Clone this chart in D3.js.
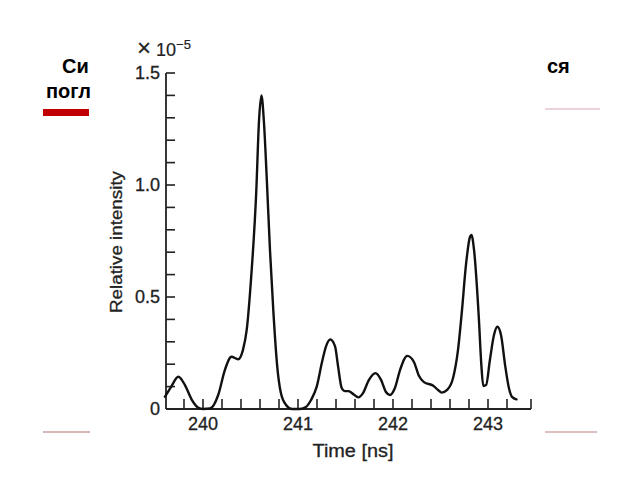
<!DOCTYPE html>
<html>
<head>
<meta charset="utf-8">
<script src="https://cdn.jsdelivr.net/npm/d3@7/dist/d3.min.js"></script>
<style>
  html, body { margin: 0; padding: 0; background: #fff; }
  svg { display: block; }
</style>
</head>
<body>
<svg id="chart" width="640" height="480"></svg>
<script>
// ---- data ----
const times = [239.60, 239.663, 239.74, 239.81, 239.884, 239.947, 240.0, 240.074, 240.16, 240.23,
  240.30, 240.37, 240.42, 240.46, 240.505, 240.56, 240.59, 240.615, 240.64, 240.67,
  240.705, 240.74, 240.78, 240.82, 240.874, 240.937, 241.02, 241.084, 241.137, 241.197,
  241.253, 241.295, 241.34, 241.39, 241.42, 241.46, 241.495, 241.53, 241.568, 241.635,
  241.684, 241.747, 241.816, 241.874, 241.926, 241.968, 242.02, 242.074, 242.15, 242.22,
  242.274, 242.326, 242.424, 242.474, 242.513, 242.57, 242.635, 242.684, 242.726, 242.768,
  242.81, 242.826, 242.853, 242.903, 242.93, 242.95, 242.98, 243.02, 243.063, 243.098,
  243.137, 243.18, 243.22, 243.253, 243.30];
const intensity = [0.055, 0.098, 0.144, 0.107, 0.04, 0.007, 0.0, 0.002, 0.0625, 0.174,
  0.233, 0.222, 0.263, 0.353, 0.576, 0.964, 1.29, 1.40, 1.29, 1.04,
  0.71, 0.44, 0.196, 0.071, 0.018, 0.0, 0.0, 0.009, 0.04, 0.10,
  0.21, 0.28, 0.31, 0.28, 0.196, 0.094, 0.08, 0.08, 0.071, 0.052,
  0.071, 0.13, 0.16, 0.13, 0.076, 0.0625, 0.094, 0.174, 0.237, 0.21,
  0.147, 0.12, 0.104, 0.085, 0.073, 0.085, 0.143, 0.263, 0.44, 0.643,
  0.768, 0.777, 0.71, 0.41, 0.196, 0.103, 0.107, 0.219, 0.33, 0.367,
  0.33, 0.196, 0.094, 0.054, 0.043];
const xTickLabels = [240, 241, 242, 243];
const yTickLabels = ["0", "0.5", "1.0", "1.5"];
const yTickValues = [0, 0.5, 1.0, 1.5];
const xAxisTitle = "Time [ns]";
const yAxisTitle = "Relative intensity";
const slideTextLeft1 = "Си";
const slideTextLeft2 = "погл";
const slideTextRight = "ся";

// ---- drawing ----
const svg = d3.select("#chart");
const ink = "#222";
const font = "'Liberation Sans', Arial, sans-serif";

// slide background fragments
svg.append("text").attr("x", 62).attr("y", 73).text(slideTextLeft1)
  .attr("font-family", font).attr("font-weight", "bold").attr("font-size", 20).attr("fill", "#000");
svg.append("text").attr("x", 46).attr("y", 98).text(slideTextLeft2)
  .attr("font-family", font).attr("font-weight", "bold").attr("font-size", 20).attr("fill", "#000");
svg.append("text").attr("x", 547).attr("y", 73).text(slideTextRight)
  .attr("font-family", font).attr("font-weight", "bold").attr("font-size", 20).attr("fill", "#000");
svg.append("rect").attr("x", 43).attr("y", 109).attr("width", 46).attr("height", 7).attr("fill", "#c00000");
svg.append("line").attr("x1", 545).attr("x2", 600).attr("y1", 109).attr("y2", 109)
  .attr("stroke", "#d8a8b0").attr("stroke-width", 1.2);
svg.append("line").attr("x1", 43).attr("x2", 90).attr("y1", 432).attr("y2", 432)
  .attr("stroke", "#c8a0a0").attr("stroke-width", 1.5);
svg.append("line").attr("x1", 545).attr("x2", 597).attr("y1", 432).attr("y2", 432)
  .attr("stroke", "#d0a8a8").attr("stroke-width", 1.5);

// scales
const x = d3.scaleLinear().domain([240, 243]).range([203, 488]);
const y = d3.scaleLinear().domain([0, 1.5]).range([409, 73]);
const xMin = x.invert(166), xMax = x.invert(531);

// axes lines
const g = svg.append("g");
g.append("line").attr("x1", x(xMin)).attr("x2", x(xMax)).attr("y1", y(0)).attr("y2", y(0))
  .attr("stroke", ink).attr("stroke-width", 1.8);
g.append("line").attr("x1", x(xMin)).attr("x2", x(xMin)).attr("y1", y(0)).attr("y2", y(1.5))
  .attr("stroke", ink).attr("stroke-width", 1.8);

// x ticks every 0.2 ns, inward (up)
const xTicks = d3.range(0, 18).map(i => 239.8 + i * 0.2).filter(v => v <= xMax + 1e-6);
xTicks.push(xMax);
g.selectAll(".xt").data(xTicks).enter().append("line")
  .attr("x1", d => x(d)).attr("x2", d => x(d)).attr("y1", y(0)).attr("y2", y(0) - 10)
  .attr("stroke", ink).attr("stroke-width", 1.6);
// y ticks every 0.1, inward (right)
const yTicks = d3.range(1, 16).map(i => i * 0.1);
g.selectAll(".yt").data(yTicks).enter().append("line")
  .attr("x1", x(xMin)).attr("x2", x(xMin) + 9).attr("y1", d => y(d)).attr("y2", d => y(d))
  .attr("stroke", ink).attr("stroke-width", 1.6);

// tick labels
g.selectAll(".xl").data(xTickLabels).enter().append("text")
  .attr("x", d => x(d)).attr("y", 430).attr("text-anchor", "middle")
  .attr("font-family", font).attr("font-size", 18).attr("fill", ink)
  .attr("stroke", ink).attr("stroke-width", 0.3).text(d => d);
g.selectAll(".yl").data(yTickValues).enter().append("text")
  .attr("x", 160).attr("y", d => y(d) + 6).attr("text-anchor", "end")
  .attr("font-family", font).attr("font-size", 18).attr("fill", ink)
  .attr("stroke", ink).attr("stroke-width", 0.3)
  .text((d, i) => yTickLabels[i]);

// exponent label
const ex = g.append("text").attr("x", 137).attr("y", 56)
  .attr("font-family", font).attr("font-size", 18).attr("fill", ink)
  .attr("stroke", ink).attr("stroke-width", 0.2);
ex.append("tspan").attr("font-size", 24).text("×");
ex.append("tspan").text(" 10");
ex.append("tspan").attr("dy", -7).attr("font-size", 13).text("−5");

// axis titles
g.append("text").attr("x", 353).attr("y", 457).attr("text-anchor", "middle")
  .attr("font-family", font).attr("font-size", 18).attr("fill", ink)
  .attr("stroke", ink).attr("stroke-width", 0.3)
  .attr("textLength", 81).attr("lengthAdjust", "spacingAndGlyphs").text(xAxisTitle);
g.append("text").attr("transform", "translate(122,242) rotate(-90)").attr("text-anchor", "middle")
  .attr("font-family", font).attr("font-size", 16).attr("fill", ink)
  .attr("stroke", ink).attr("stroke-width", 0.3)
  .attr("textLength", 142).attr("lengthAdjust", "spacingAndGlyphs").text(yAxisTitle);

// curve
const pts = times.map((t, i) => [t, intensity[i]]);
const line = d3.line().x(d => x(d[0])).y(d => y(d[1])).curve(d3.curveMonotoneX);
g.append("path").datum(pts).attr("d", line)
  .attr("fill", "none").attr("stroke", "#111").attr("stroke-width", 2.4)
  .attr("stroke-linejoin", "round").attr("stroke-linecap", "round");
</script>
</body>
</html>
